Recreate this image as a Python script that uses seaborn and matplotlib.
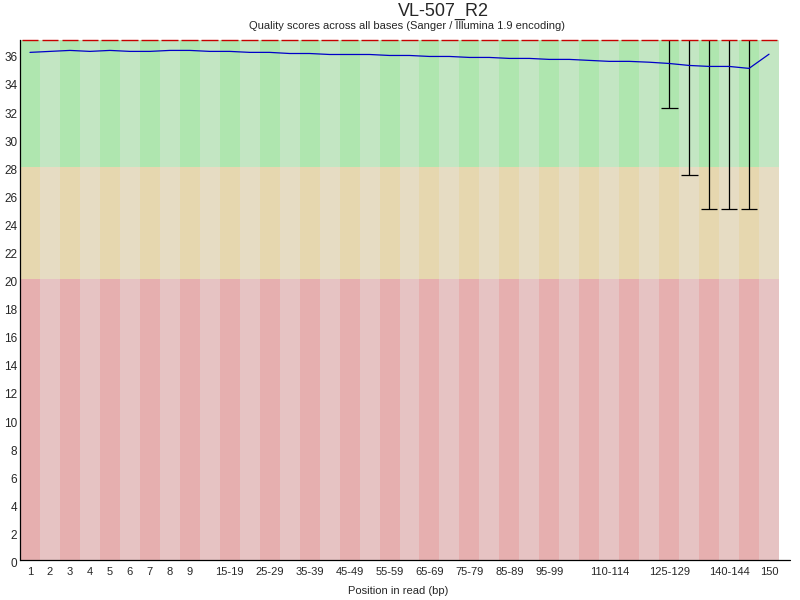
import matplotlib
matplotlib.use("Agg")
import matplotlib.pyplot as plt
import matplotlib.transforms as mtrans
import seaborn as sns
import numpy as np

# ---------------- data ----------------
bins = ["1", "2", "3", "4", "5", "6", "7", "8", "9",
        "10-14", "15-19", "20-24", "25-29", "30-34", "35-39", "40-44", "45-49",
        "50-54", "55-59", "60-64", "65-69", "70-74", "75-79", "80-84", "85-89",
        "90-94", "95-99", "100-104", "105-109", "110-114", "115-119", "120-124",
        "125-129", "130-134", "135-139", "140-144", "145-149", "150"]
shown_labels = ["1", "2", "3", "4", "5", "6", "7", "8", "9",
                "15-19", "25-29", "35-39", "45-49", "55-59", "65-69", "75-79",
                "85-89", "95-99", "110-114", "125-129", "140-144", "150"]
means = [36.14, 36.21, 36.28, 36.21, 36.28, 36.21, 36.21, 36.28, 36.28,
         36.21, 36.21, 36.14, 36.14, 36.06, 36.06, 35.99, 35.99, 35.99,
         35.92, 35.92, 35.85, 35.85, 35.78, 35.78, 35.71, 35.71, 35.64,
         35.64, 35.57, 35.50, 35.50, 35.44, 35.35, 35.21, 35.14, 35.14,
         35.00, 36.01]
medians = [37.0] * 38
upper_whisker = [37.0] * 38
lower_whisker = [37.0] * 32 + [32.15, 27.40, 24.96, 24.96, 24.96, 37.0]
y_ticks = list(range(0, 37, 2))
zone_bottoms = [0, 20, 28]
zone_tops = [20, 28, 37.0]
title = "VL-507_R2"
subtitle = "Quality scores across all bases (Sanger / Illumina 1.9 encoding)"
xlabel = "Position in read (bp)"

# ---------------- style ----------------
sns.set_style("white")
plt.rcParams['font.family'] = ['Liberation Sans', 'DejaVu Sans']

zone_dark = [(230/255, 175/255, 175/255), (230/255, 215/255, 175/255), (175/255, 230/255, 175/255)]
zone_light = [(230/255, 195/255, 195/255), (230/255, 220/255, 195/255), (195/255, 230/255, 195/255)]
mean_col = (0, 0, 200/255)
median_col = (200/255, 0, 0)

fig = plt.figure(figsize=(8, 6), dpi=100)
W, H = 800, 600
left, right, top, bottom = 20, 779, 40.3, 560
ax = fig.add_axes([left / W, 1 - bottom / H, (right - left) / W, (bottom - top) / H])

n = len(bins)
x = np.arange(n)

# background stripes
for zb, zt, cd, cl in zip(zone_bottoms, zone_tops, zone_dark, zone_light):
    cols = [cd if i % 2 == 0 else cl for i in range(n)]
    ax.bar(x, [zt - zb] * n, bottom=zb, width=1.0, color=cols, linewidth=0, zorder=0)

ax.set_xlim(-0.5, n - 0.5)
ax.set_ylim(0, zone_tops[-1])

# whiskers
lw = np.array(lower_whisker)
uw = np.array(upper_whisker)
mask = uw - lw > 0.01
ax.vlines(x[mask], lw[mask], uw[mask], color='black', linewidth=0.9, zorder=2)
ax.hlines(lw[mask], x[mask] - 0.42, x[mask] + 0.42, color='black', linewidth=0.9, zorder=2)

# medians
ax.hlines(medians, x - 0.42, x + 0.42, color=median_col, linewidth=1.0, zorder=3, clip_on=False)

# means
sns.lineplot(x=x, y=means, color=mean_col, linewidth=0.9, ax=ax, zorder=4)

# axes
for s in ['top', 'right', 'bottom']:
    ax.spines[s].set_visible(False)
ax.spines['left'].set_color('black')
ax.spines['left'].set_linewidth(0.9)
ax.plot([-0.5, n - 0.5 + 11 / 19.97], [0, 0], color='black', linewidth=0.9,
        clip_on=False, zorder=5)

ax.set_xticks(x)
ax.set_xticklabels([b if b in shown_labels else "" for b in bins], fontsize=8)
ax.set_yticks(y_ticks)
ax.set_yticklabels([str(v) for v in y_ticks], fontsize=8.5)
ax.tick_params(axis='both', length=0)
ax.tick_params(axis='y', pad=2)
ax.tick_params(axis='x', pad=5)
ax.grid(False)
off = mtrans.ScaledTranslation(0, -2.5 / 100, fig.dpi_scale_trans)
for lab in ax.get_yticklabels():
    lab.set_transform(lab.get_transform() + off)

fig.text(443.5 / W, 1 - 11.5 / H, title, fontsize=13, ha='center', va='center')
fig.text(407 / W, 1 - 26 / H, subtitle, fontsize=8, ha='center', va='center')
fig.text(398.5 / W, 1 - 590.5 / H, xlabel, fontsize=8, ha='center', va='center')

fig.savefig("out.png", dpi=100)
